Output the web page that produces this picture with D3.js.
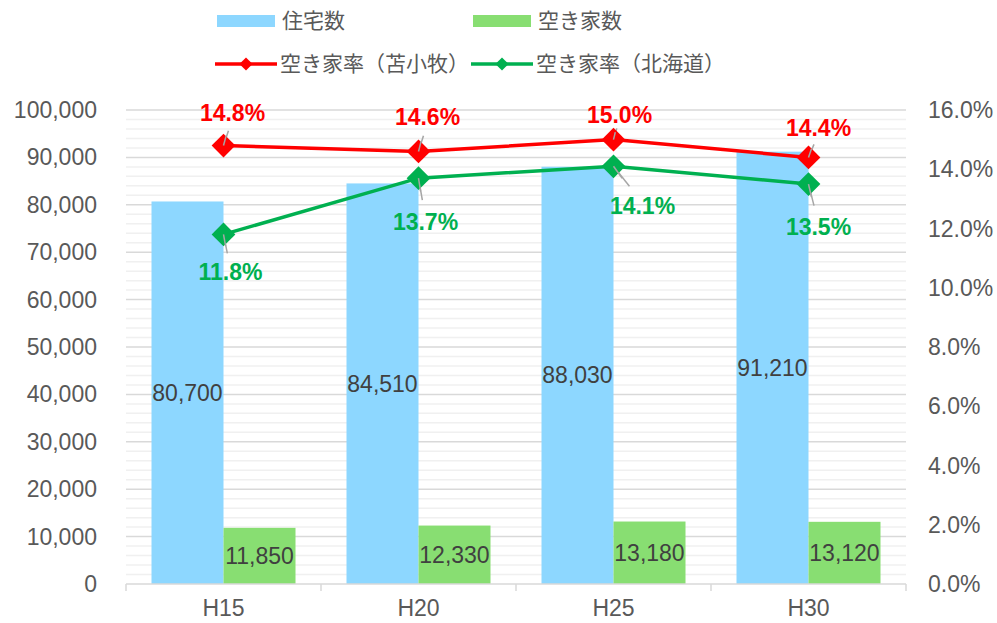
<!DOCTYPE html>
<html>
<head>
<meta charset="utf-8">
<script src="https://cdn.jsdelivr.net/npm/d3@7"></script>
<style>
  body { margin: 0; background: #fff; }
  svg { font-family: "Liberation Sans", Arial, "Noto Sans CJK JP", sans-serif; }
</style>
</head>
<body>
<svg id="chart" width="997" height="623"></svg>
<script>
const categories = ['H15', 'H20', 'H25', 'H30'];
const housing = [80700, 84510, 88030, 91210];      // 住宅数
const vacant = [11850, 12330, 13180, 13120];       // 空き家数
const rateTomakomai = [14.8, 14.6, 15.0, 14.4];    // 空き家率（苫小牧）
const rateHokkaido = [11.8, 13.7, 14.1, 13.5];     // 空き家率（北海道）
const leftTicks = d3.range(0, 100001, 10000);
const rightTicks = d3.range(0, 16.01, 2);

// where the % labels sit relative to their marker
const redLabelOffset = [[9, -33], [9, -35], [6, -25], [10, -29]];
const greenLabelOffset = [[7, 38], [7, 44], [29, 40], [10, 43]];

const w = 997, h = 623;
const margin = { left: 126, right: 91, top: 110, bottom: 39 };
const svg = d3.select('#chart');

const x = d3.scaleBand().domain(categories).range([margin.left, w - margin.right]);
const yL = d3.scaleLinear().domain([0, 100000]).range([h - margin.bottom, margin.top]);
const yR = d3.scaleLinear().domain([0, 16]).range([h - margin.bottom, margin.top]);

const barW = 72;
const textColor = '#595959';
const fs = 23;

// minor + major gridlines
svg.append('g')
  .selectAll('line')
  .data(d3.range(0, 100001, 2000).filter(v => v % 10000 !== 0))
  .join('line')
    .attr('x1', margin.left).attr('x2', w - margin.right)
    .attr('y1', d => yL(d)).attr('y2', d => yL(d))
    .attr('stroke', '#f0f0f0').attr('stroke-width', 1.5);

svg.append('g')
  .selectAll('line')
  .data(leftTicks.filter(v => v > 0))
  .join('line')
    .attr('x1', margin.left).attr('x2', w - margin.right)
    .attr('y1', d => yL(d)).attr('y2', d => yL(d))
    .attr('stroke', '#d9d9d9').attr('stroke-width', 1.5);

// bars
const cx = d => x(d) + x.bandwidth() / 2;

svg.append('g')
  .selectAll('rect')
  .data(categories)
  .join('rect')
    .attr('x', d => cx(d) - barW)
    .attr('width', barW)
    .attr('y', (d, i) => yL(housing[i]))
    .attr('height', (d, i) => yL(0) - yL(housing[i]))
    .attr('fill', '#8dd7ff');

svg.append('g')
  .selectAll('rect')
  .data(categories)
  .join('rect')
    .attr('x', d => cx(d))
    .attr('width', barW)
    .attr('y', (d, i) => yL(vacant[i]))
    .attr('height', (d, i) => yL(0) - yL(vacant[i]))
    .attr('fill', '#88de72');

// bar values
const fmt = d3.format(',');
svg.append('g')
  .selectAll('text')
  .data(categories)
  .join('text')
    .attr('x', d => cx(d) - barW / 2)
    .attr('y', (d, i) => (yL(housing[i]) + yL(0)) / 2)
    .attr('dy', '0.35em')
    .attr('text-anchor', 'middle')
    .attr('font-size', fs)
    .attr('fill', '#404040')
    .text((d, i) => fmt(housing[i]));

svg.append('g')
  .selectAll('text')
  .data(categories)
  .join('text')
    .attr('x', d => cx(d) + barW / 2)
    .attr('y', (d, i) => (yL(vacant[i]) + yL(0)) / 2)
    .attr('dy', '0.35em')
    .attr('text-anchor', 'middle')
    .attr('font-size', fs)
    .attr('fill', '#404040')
    .text((d, i) => fmt(vacant[i]));

// bottom axis
const axisY = yL(0);
svg.append('line')
  .attr('x1', margin.left).attr('x2', w - margin.right)
  .attr('y1', axisY).attr('y2', axisY)
  .attr('stroke', '#d9d9d9').attr('stroke-width', 1.5);

svg.append('g')
  .selectAll('line')
  .data(categories.concat(['end']))
  .join('line')
    .attr('x1', (d, i) => i < categories.length ? x(d) : w - margin.right)
    .attr('x2', (d, i) => i < categories.length ? x(d) : w - margin.right)
    .attr('y1', axisY).attr('y2', axisY + 7)
    .attr('stroke', '#d9d9d9').attr('stroke-width', 1.5);

svg.append('g')
  .selectAll('text')
  .data(categories)
  .join('text')
    .attr('x', d => cx(d))
    .attr('y', axisY + 32)
    .attr('text-anchor', 'middle')
    .attr('font-size', fs)
    .attr('fill', textColor)
    .text(d => d);

// left / right tick labels
svg.append('g')
  .selectAll('text')
  .data(leftTicks)
  .join('text')
    .attr('x', 97)
    .attr('y', d => yL(d))
    .attr('dy', '0.35em')
    .attr('text-anchor', 'end')
    .attr('font-size', fs)
    .attr('fill', textColor)
    .text(d => fmt(d));

svg.append('g')
  .selectAll('text')
  .data(rightTicks)
  .join('text')
    .attr('x', 928)
    .attr('y', d => yR(d))
    .attr('dy', '0.35em')
    .attr('text-anchor', 'start')
    .attr('font-size', fs)
    .attr('fill', textColor)
    .text(d => d.toFixed(1) + '%');

// lines
const diamond = d3.symbol().type(d3.symbolDiamond2).size(360);

function drawRate(values, color, offsets) {
  const pts = categories.map((c, i) => [cx(c), yR(values[i])]);

  svg.append('path')
    .attr('d', d3.line()(pts))
    .attr('fill', 'none')
    .attr('stroke', color)
    .attr('stroke-width', 3.5);

  // leader lines
  svg.append('g')
    .selectAll('line')
    .data(pts)
    .join('line')
      .attr('x1', d => d[0])
      .attr('y1', d => d[1])
      .attr('x2', (d, i) => d[0] + offsets[i][0] * 0.55)
      .attr('y2', (d, i) => d[1] + offsets[i][1] * (offsets[i][1] < 0 ? 0.45 : 0.5))
      .attr('stroke', '#a6a6a6').attr('stroke-width', 1.5);

  svg.append('g')
    .selectAll('path')
    .data(pts)
    .join('path')
      .attr('d', diamond)
      .attr('transform', d => `translate(${d[0]},${d[1]})`)
      .attr('fill', color);

  // leader tip visible over the marker
  svg.append('g')
    .selectAll('line')
    .data(pts)
    .join('line')
      .attr('x1', d => d[0])
      .attr('y1', d => d[1])
      .attr('x2', (d, i) => d[0] + offsets[i][0] * 0.3)
      .attr('y2', (d, i) => d[1] + offsets[i][1] * 0.3)
      .attr('stroke', '#a6a6a6').attr('stroke-width', 1.5);

  svg.append('g')
    .selectAll('text')
    .data(pts)
    .join('text')
      .attr('x', (d, i) => d[0] + offsets[i][0])
      .attr('y', (d, i) => d[1] + offsets[i][1])
      .attr('dy', '0.35em')
      .attr('text-anchor', 'middle')
      .attr('font-size', fs)
      .attr('font-weight', 'bold')
      .attr('fill', color)
      .text((d, i) => values[i].toFixed(1) + '%');
}

drawRate(rateTomakomai, '#ff0000', redLabelOffset);
drawRate(rateHokkaido, '#00b050', greenLabelOffset);

// legend
const legend = svg.append('g').attr('font-size', 21).attr('fill', textColor)
  .attr('font-family', '"Noto Sans CJK JP", sans-serif');

const legendItems = [
  { name: '住宅数', kind: 'bar', color: '#8dd7ff', x: 217, y: 21 },
  { name: '空き家数', kind: 'bar', color: '#88de72', x: 473, y: 21 },
  { name: '空き家率（苫小牧）', kind: 'line', color: '#ff0000', x: 215, y: 64 },
  { name: '空き家率（北海道）', kind: 'line', color: '#00b050', x: 471, y: 64 }
];

legendItems.forEach(item => {
  if (item.kind === 'bar') {
    legend.append('rect')
      .attr('x', item.x).attr('y', item.y - 6)
      .attr('width', 58).attr('height', 12)
      .attr('fill', item.color);
  } else {
    legend.append('line')
      .attr('x1', item.x).attr('x2', item.x + 62)
      .attr('y1', item.y).attr('y2', item.y)
      .attr('stroke', item.color).attr('stroke-width', 3.5);
    legend.append('path')
      .attr('d', d3.symbol().type(d3.symbolDiamond2).size(110))
      .attr('transform', `translate(${item.x + 31},${item.y})`)
      .attr('fill', item.color);
  }
  legend.append('text')
    .attr('x', item.x + 65)
    .attr('y', item.y)
    .attr('dy', '0.35em')
    .text(item.name);
});
</script>
</body>
</html>
